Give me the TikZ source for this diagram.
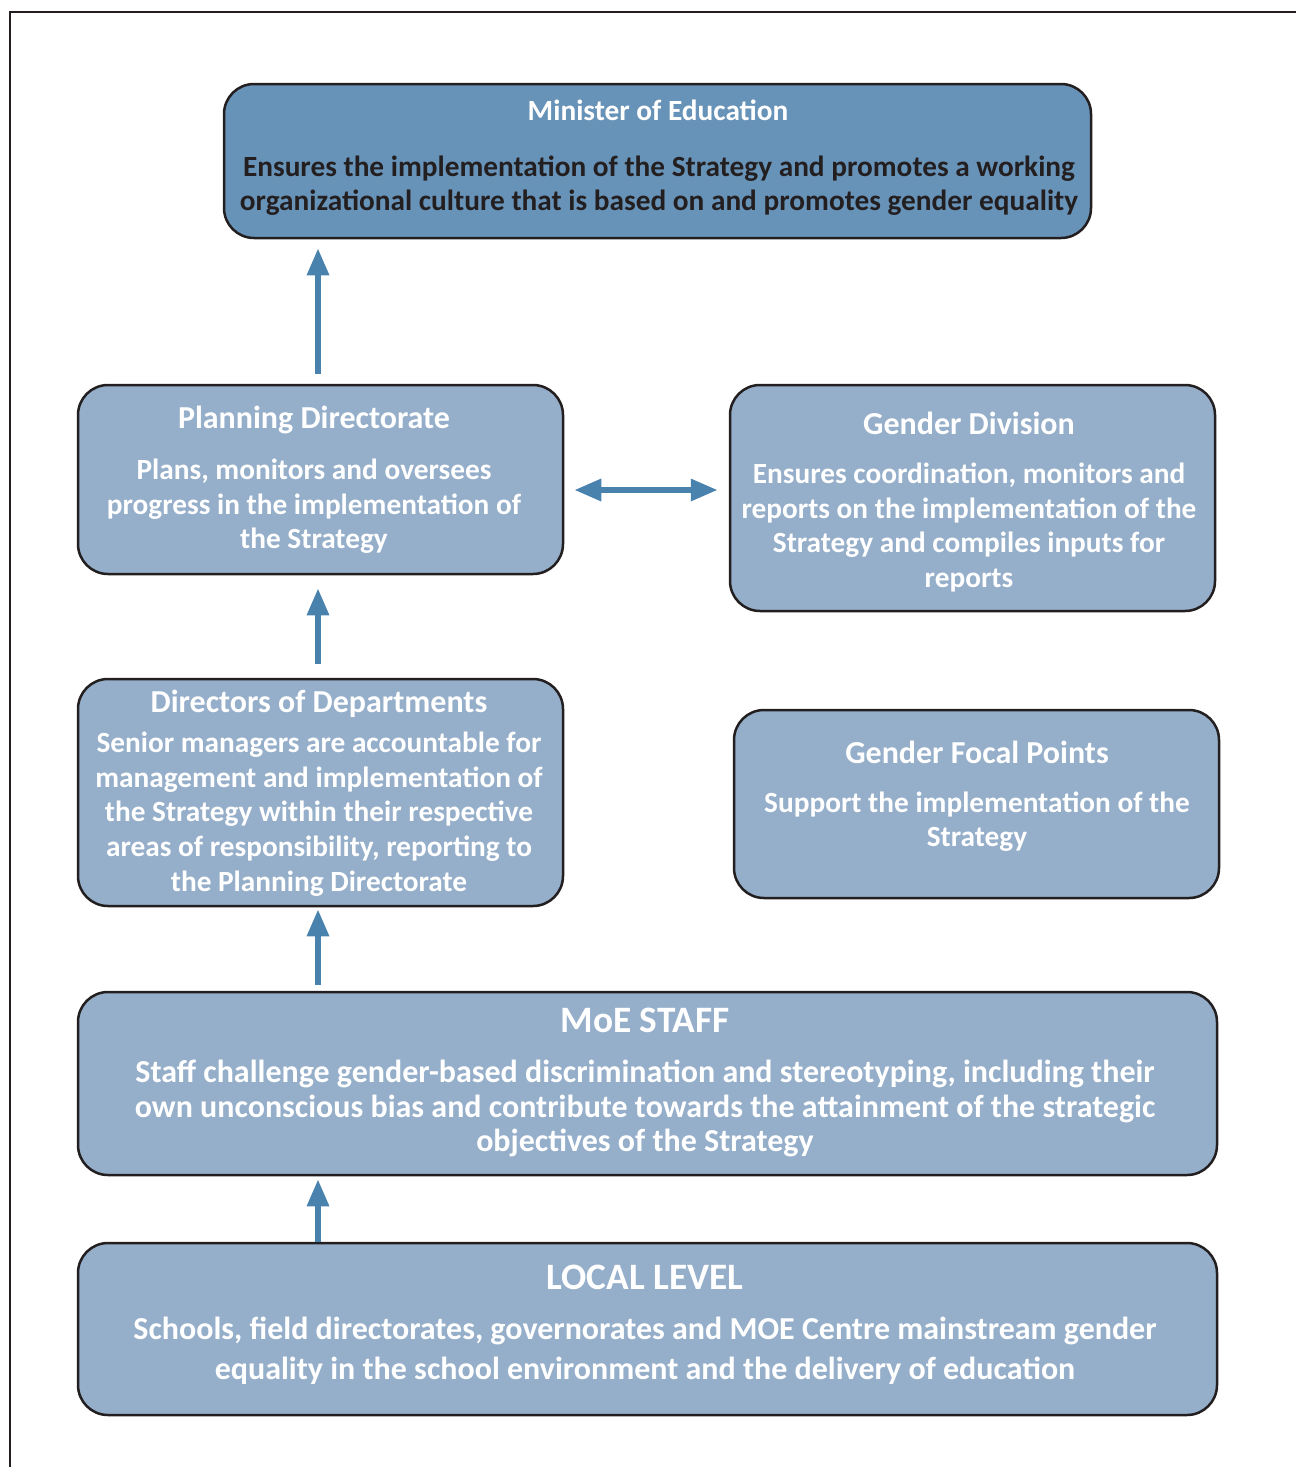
\documentclass[tikz,border=0pt]{standalone}
\usepackage{fontspec}
\setmainfont{Carlito}
\usetikzlibrary{arrows.meta}
\definecolor{topfill}{HTML}{6893B8}
\definecolor{boxfill}{HTML}{95AEC9}
\definecolor{arrowblue}{HTML}{4A82AE}
\definecolor{darktext}{HTML}{231F20}
\tikzset{
  box/.style={draw=darktext, line width=2.5pt, rounded corners=30pt, fill=boxfill, inner sep=0pt},
  ttl/.style={inner sep=0pt, align=center, text=white, font=\bfseries\fontsize{32}{36}\selectfont},
  bigttl/.style={inner sep=0pt, align=center, text=white, font=\bfseries\fontsize{37.3}{40}\selectfont},
  body/.style={inner sep=0pt, align=center, text=white, font=\bfseries\fontsize{29.3}{34.6}\selectfont},
  arr/.style={draw=arrowblue, line width=6pt, -{Triangle[width=21pt,length=27pt]}},
  darr/.style={draw=arrowblue, line width=6pt, {Triangle[width=21pt,length=27pt]}-{Triangle[width=21pt,length=27pt]}}
}
\begin{document}
\begin{tikzpicture}[x=1pt,y=-1pt]
\useasboundingbox (0,0) rectangle (1296,1467);
\draw[darktext, line width=2pt] (10,1467) -- (10,12) -- (1296,12);
% boxes
\node[box, fill=topfill, minimum width=867pt, minimum height=154pt] (minister) at (657.5,161) {};
\node[box, minimum width=485pt, minimum height=189pt] (planning) at (320.5,479.5) {};
\node[box, minimum width=485pt, minimum height=226pt] (gd) at (972.5,498) {};
\node[box, minimum width=485pt, minimum height=227pt] (directors) at (320.5,792.5) {};
\node[box, minimum width=485pt, minimum height=188pt] (gfp) at (976.5,804) {};
\node[box, minimum width=1139pt, minimum height=183pt] (moe) at (647.5,1083.5) {};
\node[box, minimum width=1139pt, minimum height=172pt] (local) at (647.5,1329) {};
% texts
\node[ttl, font=\bfseries\fontsize{29.3}{34}\selectfont] (ministert) at (658,110) {Minister of Education};
\node[body, text=darktext] (ministerb) at (659,185.5) {Ensures the implementation of the Strategy and promotes a working\\organizational culture that is based on and promotes gender equality};
\node[ttl] (planningt) at (314,420) {Planning Directorate};
\node[body] (planningb) at (314,506.5) {Plans, monitors and oversees\\progress in the implementation of\\the Strategy};
\node[ttl] (gdt) at (969,423) {Gender Division};
\node[body] (gdb) at (969,527.5) {Ensures coordination, monitors and\\reports on the implementation of the\\Strategy and compiles inputs for\\reports};
\node[ttl] (directorst) at (319,704) {Directors of Departments};
\node[body] (directorsb) at (319,814) {Senior managers are accountable for\\management and implementation of\\the Strategy within their respective\\areas of responsibility, reporting to\\the Planning Directorate};
\node[ttl] (gfpt) at (977,752) {Gender Focal Points};
\node[body] (gfpb) at (977,821.5) {Support the implementation of the\\Strategy};
\node[bigttl] (moet) at (645,1020) {MoE STAFF};
\node[body, font=\bfseries\fontsize{32}{34.6}\selectfont] (moeb) at (645,1108.5) {Staff challenge gender-based discrimination and stereotyping, including their\\own unconscious bias and contribute towards the attainment of the strategic\\objectives of the Strategy};
\node[bigttl] (localt) at (645,1277) {LOCAL LEVEL};
\node[body, font=\bfseries\fontsize{32}{40}\selectfont] (localb) at (645,1351) {Schools, field directorates, governorates and MOE Centre mainstream gender\\equality in the school environment and the delivery of education};
% arrows
\coordinate (ax) at (318,0);
\coordinate (hy) at (0,490);
\draw[arr, shorten <=10pt, shorten >=9pt] (ax |- planning.north) -- (ax |- minister.south);
\draw[arr, shorten <=14pt, shorten >=13pt] (ax |- directors.north) -- (ax |- planning.south);
\draw[arr, shorten <=6pt, shorten >=2pt] (ax |- moe.north) -- (ax |- directors.south);
\draw[arr, shorten >=3pt] (ax |- local.north) -- (ax |- moe.south);
\draw[darr, shorten <=10pt, shorten >=11pt] (planning.east |- hy) -- (gd.west |- hy);
\end{tikzpicture}
\end{document}
